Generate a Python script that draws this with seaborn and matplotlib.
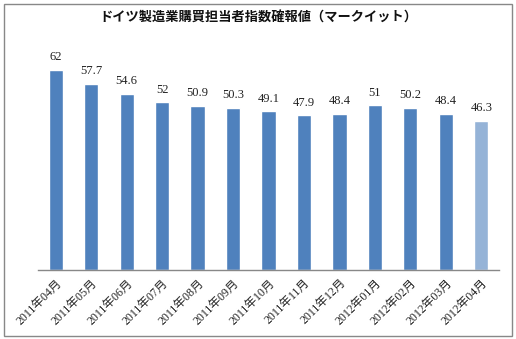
import matplotlib
matplotlib.use("Agg")
import matplotlib.pyplot as plt
import seaborn as sns
import pandas as pd
from matplotlib.patches import Rectangle

categories = ["2011年04月", "2011年05月", "2011年06月", "2011年07月", "2011年08月",
              "2011年09月", "2011年10月", "2011年11月", "2011年12月", "2012年01月",
              "2012年02月", "2012年03月", "2012年04月"]
values = [62, 57.7, 54.6, 52, 50.9, 50.3, 49.1, 47.9, 48.4, 51, 50.2, 48.4, 46.3]
value_labels = ["62", "57.7", "54.6", "52", "50.9", "50.3", "49.1", "47.9", "48.4", "51", "50.2", "48.4", "46.3"]
title = "ドイツ製造業購買担当者指数確報値（マークイット）"

sns.set_theme(style="white")
plt.rcParams['font.family'] = ['Noto Sans CJK JP', 'DejaVu Sans']
serif_cjk = ['Liberation Serif', 'Noto Sans CJK JP']

colors = ["#4F81BD"] * 12 + ["#95B3D7"]
df = pd.DataFrame({"cat": categories, "val": values})

fig = plt.figure(figsize=(5.16, 3.39), dpi=100)
ax = fig.add_axes([38 / 516, 1 - 270 / 339, 461 / 516, 226 / 339])
sns.barplot(data=df, x="cat", y="val", hue="cat", palette=colors, legend=False,
            width=0.4, saturation=1, ax=ax)
ax.set_ylim(0, 70)
ax.set_xlim(-0.5, 12.5)
ax.set_xlabel("")
ax.set_ylabel("")
ax.set_yticks([])
for s in ["top", "right", "left"]:
    ax.spines[s].set_visible(False)
ax.spines["bottom"].set_color("#888888")
ax.spines["bottom"].set_linewidth(1)
ax.tick_params(axis="x", length=0, pad=5)
ax.set_xticks(range(len(categories)))
ax.set_xticklabels(categories, rotation=45, ha="right", rotation_mode="anchor",
                   fontsize=8.5, color="#222222", family=serif_cjk)
for i, (v, lab) in enumerate(zip(values, value_labels)):
    ax.text(i, v + 2, lab, ha="center", va="bottom", fontsize=9, color="#222222",
            family=serif_cjk)

fig.text(0.5, 1 - 18 / 339, title, ha="center", va="center", fontsize=9.5,
         fontweight="bold", color="#111111")
fig.patches.append(Rectangle((4 / 516, 3 / 339), 508 / 516, 332 / 339,
                             transform=fig.transFigure, fill=False,
                             edgecolor="#888888", linewidth=1))
fig.savefig("out.png", dpi=100)
